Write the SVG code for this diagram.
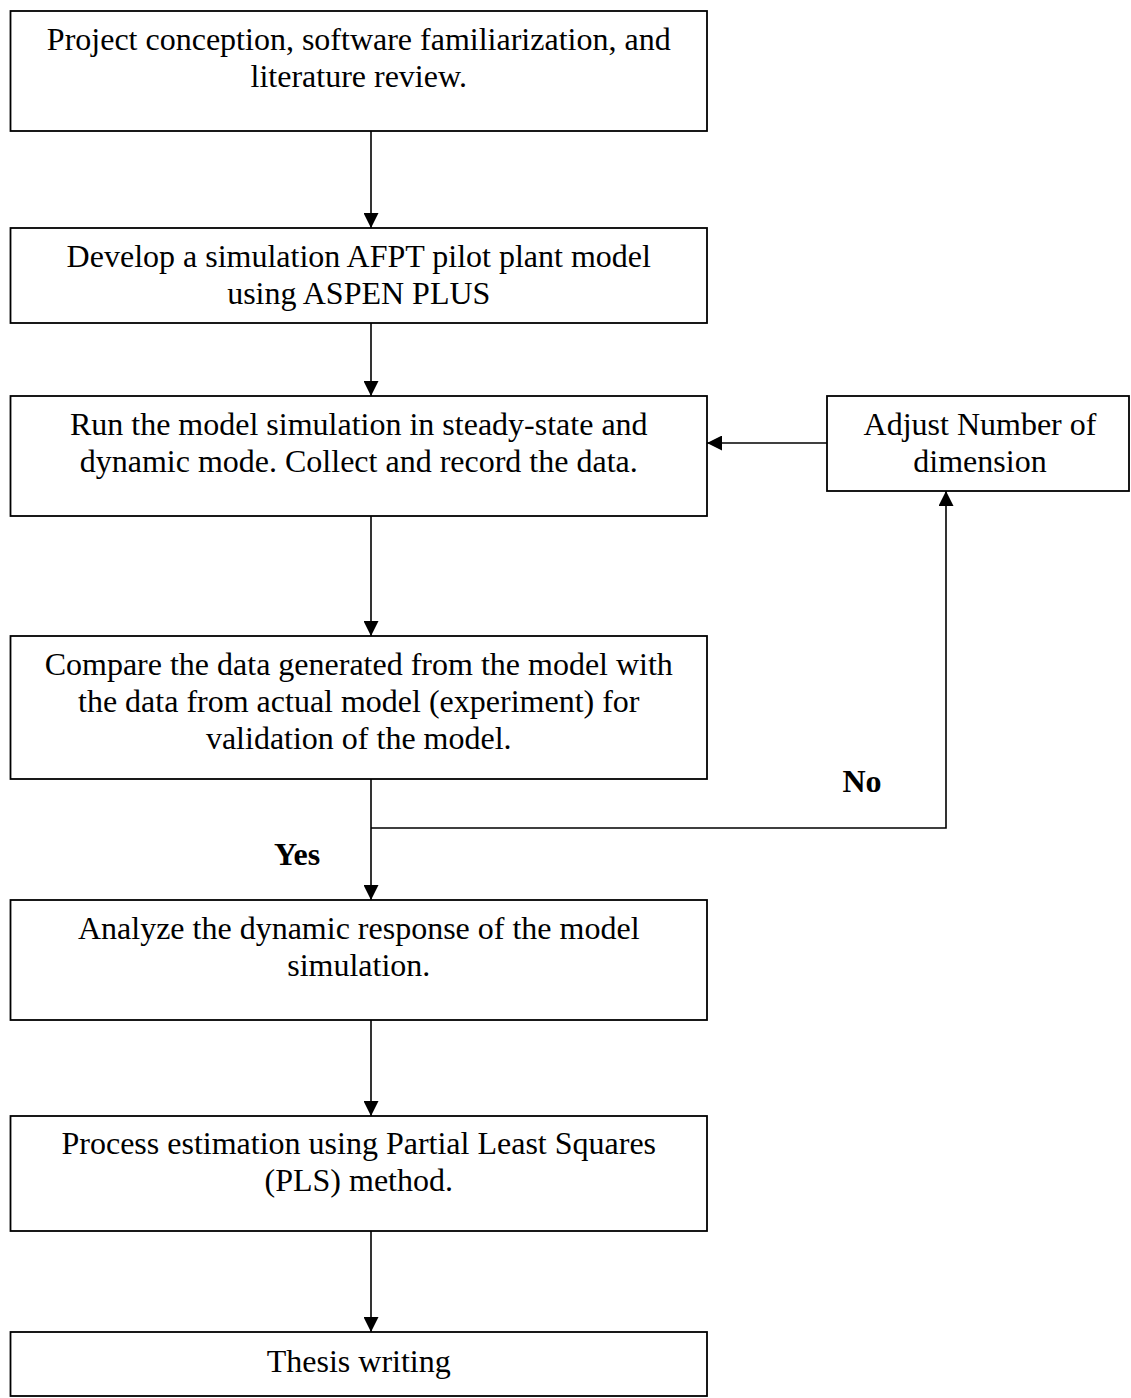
<svg xmlns="http://www.w3.org/2000/svg" width="1131" height="1398" viewBox="0 0 1131 1398">
<style>
.box{fill:#fff;stroke:#000;stroke-width:1.8}
.t{font-family:"Liberation Serif","Times New Roman",serif;font-size:32px;fill:#000;text-anchor:middle}
.b{font-weight:bold}
.c{fill:none;stroke:#000;stroke-width:1.6}
</style>
<defs>
<marker id="ah" markerWidth="15" markerHeight="15" refX="15" refY="7.5" orient="auto" markerUnits="userSpaceOnUse">
<path d="M0,0 L15,7.5 L0,15 Z" fill="#000"/>
</marker>
</defs>
<rect width="1131" height="1398" fill="#fff"/>
<g id="connectors">
<line class="c" x1="371" y1="131" x2="371" y2="228" marker-end="url(#ah)"/>
<line class="c" x1="371" y1="323" x2="371" y2="396" marker-end="url(#ah)"/>
<line class="c" x1="371" y1="516" x2="371" y2="636" marker-end="url(#ah)"/>
<line class="c" x1="371" y1="779" x2="371" y2="900" marker-end="url(#ah)"/>
<polyline class="c" points="371,828 946,828 946,491" marker-end="url(#ah)"/>
<line class="c" x1="827" y1="443" x2="707" y2="443" marker-end="url(#ah)"/>
<line class="c" x1="371" y1="1020" x2="371" y2="1116" marker-end="url(#ah)"/>
<line class="c" x1="371" y1="1231" x2="371" y2="1332" marker-end="url(#ah)"/>
<text class="t b" x="297" y="865">Yes</text>
<text class="t b" x="862" y="792">No</text>
</g>
<g id="n1">
<rect class="box" x="10.5" y="11" width="696.5" height="120"/>
<text class="t" x="358.75" y="50">Project conception, software familiarization, and</text>
<text class="t" x="358.75" y="87">literature review.</text>
</g>
<g id="n2">
<rect class="box" x="10.5" y="228" width="696.5" height="95"/>
<text class="t" x="358.75" y="267">Develop a simulation AFPT pilot plant model</text>
<text class="t" x="358.75" y="304">using ASPEN PLUS</text>
</g>
<g id="n3">
<rect class="box" x="10.5" y="396" width="696.5" height="120"/>
<text class="t" x="358.75" y="435">Run the model simulation in steady-state and</text>
<text class="t" x="358.75" y="472">dynamic mode. Collect and record the data.</text>
</g>
<g id="n_adjust">
<rect class="box" x="827" y="396" width="302" height="95"/>
<text class="t" x="980" y="435">Adjust Number of</text>
<text class="t" x="980" y="472">dimension</text>
</g>
<g id="n4">
<rect class="box" x="10.5" y="636" width="696.5" height="143"/>
<text class="t" x="358.75" y="675">Compare the data generated from the model with</text>
<text class="t" x="358.75" y="712">the data from actual model (experiment) for</text>
<text class="t" x="358.75" y="749">validation of the model.</text>
</g>
<g id="n5">
<rect class="box" x="10.5" y="900" width="696.5" height="120"/>
<text class="t" x="358.75" y="939">Analyze the dynamic response of the model</text>
<text class="t" x="358.75" y="976">simulation.</text>
</g>
<g id="n6">
<rect class="box" x="10.5" y="1116" width="696.5" height="115"/>
<text class="t" x="358.75" y="1154">Process estimation using Partial Least Squares</text>
<text class="t" x="358.75" y="1191">(PLS) method.</text>
</g>
<g id="n7">
<rect class="box" x="10.5" y="1332" width="696.5" height="64"/>
<text class="t" x="358.75" y="1372">Thesis writing</text>
</g>
</svg>
